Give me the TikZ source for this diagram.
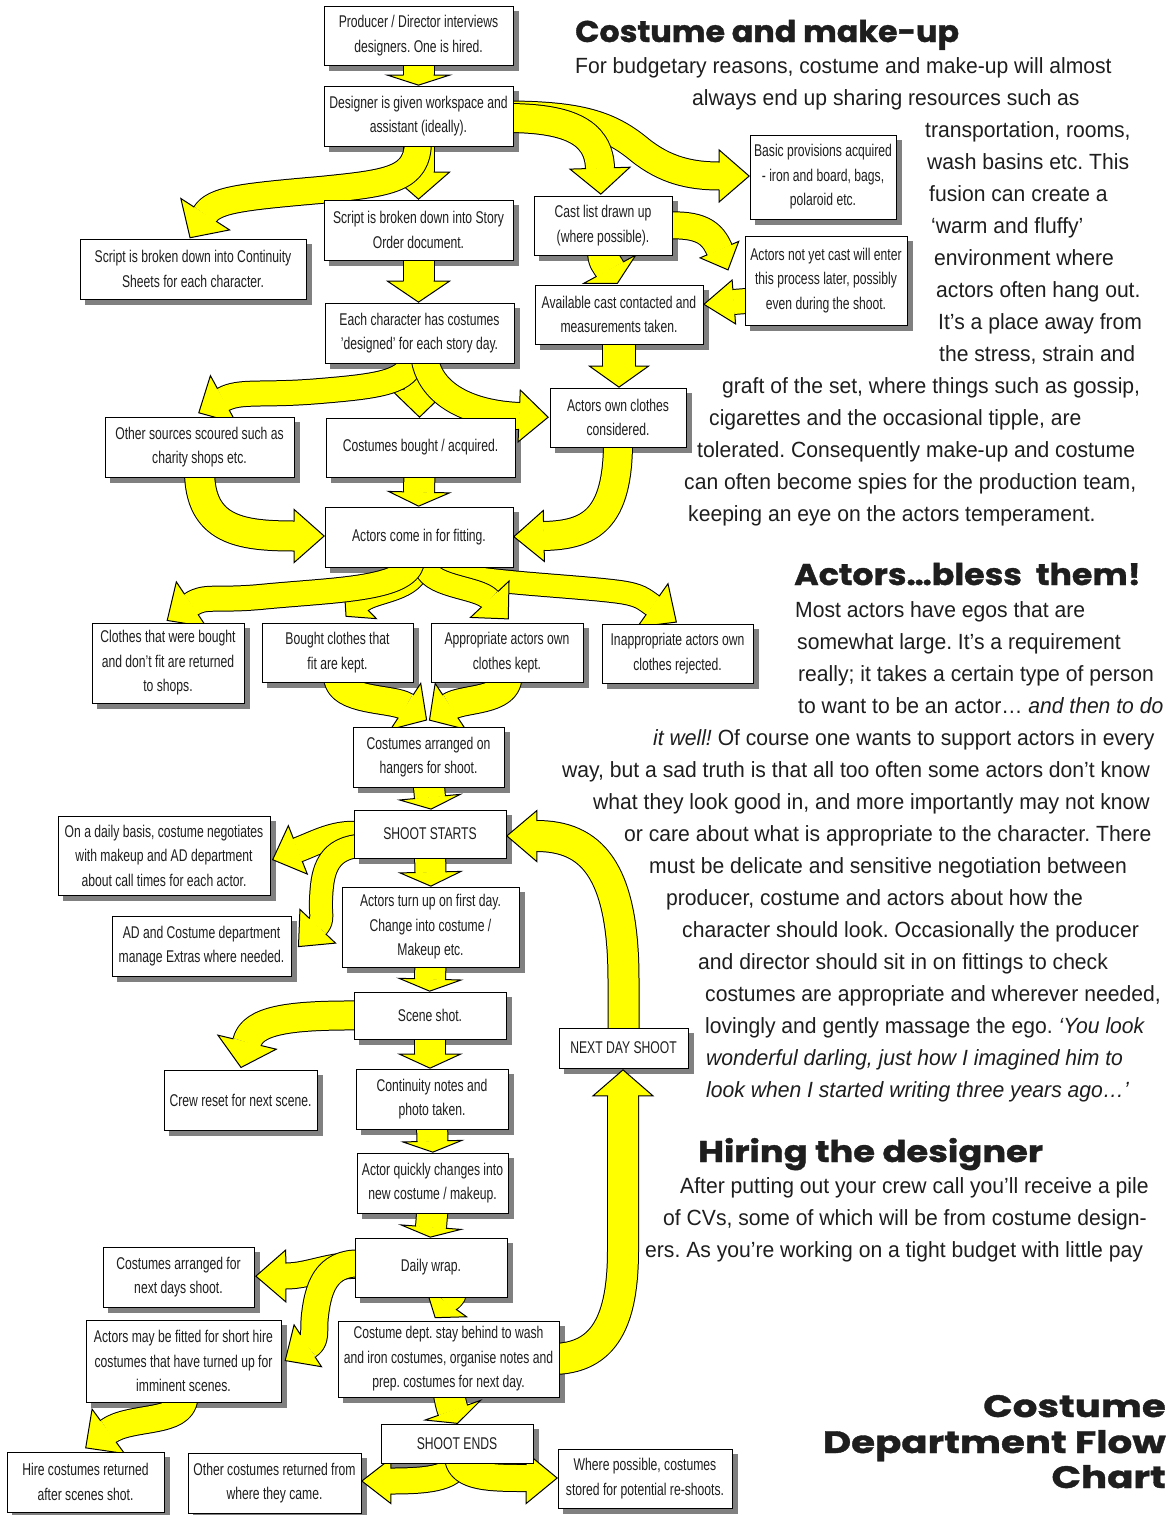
\documentclass[tikz,border=0pt]{standalone}
\usepackage{fontspec}
\usetikzlibrary{decorations.markings,calc}
\newfontfamily\boxfont{Liberation Sans}[FakeStretch=0.715]
\newfontfamily\bodyfont{Liberation Sans}[FakeStretch=0.96]
\newfontfamily\headfont{Poppins}[FakeStretch=1.11,FakeBold=1.2]
\newfontfamily\titlefont{Poppins}[FakeStretch=1.25,FakeBold=1.2]
\definecolor{ayellow}{RGB}{255,255,0}
\definecolor{shadowgray}{RGB}{128,128,128}
\definecolor{inkc}{RGB}{30,30,30}
\pgfdeclarelayer{bg}
\pgfdeclarelayer{shad}
\pgfdeclarelayer{arr}
\pgfsetlayers{bg,shad,arr,main}
\frenchspacing
\tikzset{
  box/.style={draw=black, line width=0.9pt, fill=white, align=center, inner sep=0pt, text=inkc,
    font=\boxfont\fontsize{17}{24.5}\selectfont\frenchspacing},
  body/.style={inner sep=0pt, anchor=base west, text=inkc, font=\bodyfont\fontsize{22}{26}\selectfont\frenchspacing},
  head/.style={inner sep=0pt, text=inkc, font=\headfont\bfseries\fontsize{30}{34}\selectfont},
  titletext/.style={inner sep=0pt, text=inkc, anchor=base east, font=\titlefont\bfseries\fontsize{31}{35}\selectfont},
  yarrow/.style n args={3}{draw=black, line width=1pt, double=ayellow, double distance=#1,
    line join=round,
    postaction={decorate, decoration={markings, mark=at position -0.4pt with {
      \filldraw[fill=ayellow, draw=black, line width=1pt, line join=miter]
        (0pt,{#1*0.5pt}) -- (0pt,{#2*0.5pt}) -- ({#3*1pt},0pt) -- (0pt,{-#2*0.5pt}) -- (0pt,{-#1*0.5pt});}}}},
}
\newcommand\bx[6]{\node[box,minimum width={#4-#2},minimum height={#5-#3}] (#1) at ({(#2+#4)/2},{(#3+#5)/2}) {#6};}
\newcommand\yarr[4]{\draw[yarrow={#1}{#2}{#3}] #4;}
\begin{document}
\begin{tikzpicture}[x=1pt,y=-1pt]
\begin{pgfonlayer}{bg}
\fill[white] (0,0) rectangle (1173,1515);
\end{pgfonlayer}
\useasboundingbox (0,0) rectangle (1173,1515);

% ---------------- boxes ----------------
\bx{B1}{324}{6}{513}{65}{Producer / Director interviews\\designers. One is hired.}
\bx{B2}{324}{86}{513}{146}{Designer is given workspace and\\assistant (ideally).}
\bx{B3}{80}{239}{306}{299}{Script is broken down into Continuity\\Sheets for each character.}
\bx{B4}{324}{200}{513}{260}{Script is broken down into Story\\Order document.}
\bx{B5}{534}{196}{672}{255}{Cast list drawn up\\(where possible).}
\bx{B6}{750}{135}{896}{219}{Basic provisions acquired\\- iron and board, bags,\\polaroid etc.}
\bx{B7}{745}{236}{907}{325}{Actors not yet cast will enter\\this process later, possibly\\even during the shoot.}
\bx{B8}{535}{285}{703}{344}{Available cast contacted and\\measurements taken.}
\bx{B9}{325}{303}{514}{363}{Each character has costumes\\’designed’ for each story day.}
\bx{B10}{550}{388}{686}{447}{Actors own clothes\\considered.}
\bx{B11}{105}{417}{294}{477}{Other sources scoured such as\\charity shops etc.}
\bx{B12}{326}{418}{515}{477}{Costumes bought / acquired.}
\bx{B13}{325}{507}{513}{567}{Actors come in for fitting.}
\bx{B14}{92}{623}{244}{703}{Clothes that were bought\\and don’t fit are returned\\to shops.}
\bx{B15}{262}{623}{413}{682}{Bought clothes that\\fit are kept.}
\bx{B16}{431}{623}{583}{682}{Appropriate actors own\\clothes kept.}
\bx{B17}{602}{624}{753}{683}{Inappropriate actors own\\clothes rejected.}
\bx{B18}{353}{727}{504}{787}{Costumes arranged on\\hangers for shoot.}
\bx{B19}{354}{810}{506}{858}{SHOOT STARTS}
\bx{B20}{58}{816}{270}{895}{On a daily basis, costume negotiates\\with makeup and AD department\\about call times for each actor.}
\bx{B21}{112}{916}{291}{976}{AD and Costume department\\manage Extras where needed.}
\bx{B22}{342}{887}{519}{967}{Actors turn up on first day.\\Change into costume /\\Makeup etc.}
\bx{B23}{354}{992}{506}{1039}{Scene shot.}
\bx{B24}{164}{1070}{317}{1130}{Crew reset for next scene.}
\bx{B25}{356}{1069}{508}{1129}{Continuity notes and\\photo taken.}
\bx{B26}{559}{1028}{688}{1068}{NEXT DAY SHOOT}
\bx{B27}{357}{1153}{508}{1213}{Actor quickly changes into\\new costume / makeup.}
\bx{B28}{355}{1238}{507}{1297}{Daily wrap.}
\bx{B29}{103}{1247}{254}{1307}{Costumes arranged for\\next days shoot.}
\bx{B30}{86}{1320}{281}{1402}{Actors may be fitted for short hire\\costumes that have turned up for\\imminent scenes.}
\bx{B31}{338}{1321}{559}{1397}{Costume dept. stay behind to wash\\and iron costumes, organise notes and\\prep. costumes for next day.}
\bx{B32}{381}{1424}{533}{1463}{SHOOT ENDS}
\bx{B33}{7}{1452}{164}{1512}{Hire costumes returned\\after scenes shot.}
\bx{B34}{188}{1453}{361}{1513}{Other costumes returned from\\where they came.}
\bx{B35}{558}{1449}{732}{1508}{Where possible, costumes\\stored for potential re-shoots.}

% ---------------- shadows ----------------
\begin{pgfonlayer}{shad}
\foreach \n in {B1,B2,B3,B4,B5,B6,B7,B8,B9,B10,B11,B12,B13,B14,B15,B16,B17,B18,B19,B20,B21,B22,B23,B24,B25,B26,B27,B28,B29,B30,B31,B32,B33,B34,B35}
  \fill[shadowgray] ($(\n.north west)+(5.5,5.5)$) rectangle ($(\n.south east)+(5.5,5.5)$);
\end{pgfonlayer}

% ---------------- arrows ----------------
\begin{pgfonlayer}{arr}
\yarr{30}{62}{10}{($(B1.south)+(0,-10)$) -- ($(B2.north)+(0,-10)$)}
\yarr{30}{62}{27}{($(B2.south)+(0,-6)$) -- ($(B4.north)+(0,-27)$)}
\yarr{26}{58}{28}{($(B2.south)+(-0.5,-6)$) .. controls (418,180) and (390,183) .. (320,190) .. controls (240,197) and (214,200) .. ($(B3.north)+(12,-24)$)}
\yarr{27}{52}{30}{($(B2.east)+(-8,-1)$) .. controls (580,115) and (610,125) .. (640,150) .. controls (665,170) and (690,176) .. ($(B6.west)+(-30,-1)$)}
\yarr{28}{60}{26}{($(B2.east)+(-8,2)$) .. controls (565,118) and (599,130) .. ($(B5.north)+(-3,-27)$)}
\yarr{30}{62}{21}{($(B4.south)+(0,-6)$) -- ($(B9.north)+(-1,-21)$)}
\yarr{26}{42}{22}{($(B5.east)+(-7,0)$) .. controls (700,224) and (712,232) .. ($(B7.west)+(-25,-30.5)$)}
\yarr{24}{44}{30}{($(B7.west)+(8,20)$) -- ($(B8.east)+(30,-12.5)$)}
\yarr{30}{59}{16}{($(B5.south)+(0,-6)$) .. controls (603,262) and (606,262) .. ($(B8.north)+(-9,-15)$)}
\yarr{32}{59}{21}{($(B8.south)+(0,-6)$) -- ($(B10.north)+(1,-21)$)}
\yarr{30}{58}{28}{($(B9.south)+(0,-6)$) -- ($(B12.north)+(-1,-28)$)}
\yarr{24}{54}{28}{($(B9.south)+(-7,-6)$) .. controls (410,382) and (380,386) .. (320,391) .. controls (262,396) and (240,390) .. ($(B11.north)+(23.5,-17)$)}
\yarr{26}{52}{29}{($(B9.south)+(5,-6)$) .. controls (430,395) and (470,414) .. ($(B10.west)+(-30,-1.5)$)}
\yarr{29}{53}{30}{($(B11.south)+(0,-6)$) .. controls (200,530) and (240,536) .. ($(B13.west)+(-30,-1)$)}
\yarr{30}{61}{14}{($(B12.south)+(-1,-6)$) -- ($(B13.north)+(0,-14)$)}
\yarr{28}{51}{30}{($(B10.south)+(0,-6)$) .. controls (618,520) and (590,535) .. ($(B13.east)+(30,-1)$)}
\yarr{22}{46}{20}{($(B13.south)+(0,-5)$) .. controls (418,592) and (372,590) .. ($(B15.north)+(22.5,-20)$)}
\yarr{22}{53}{29}{($(B13.south)+(6,-5)$) .. controls (440,582) and (560,584) .. (620,592) .. controls (640,595) and (643,598.5) .. ($(B17.north)+(-24.5,-18)$)}
\yarr{22}{53}{27}{($(B13.south)+(5,-5)$) .. controls (426,588) and (478,586) .. ($(B16.north)+(-17,-23)$)}
\yarr{24}{54}{29}{($(B13.south)+(-7,-5)$) .. controls (405,590) and (330,590) .. (260,597) .. controls (215,601) and (205,595) .. ($(B14.north)+(23,-18)$)}
\yarr{27}{55}{25}{($(B15.south)+(0,-6)$) .. controls (338,702) and (394,698) .. ($(B18.north)+(-22.5,-20)$)}
\yarr{27}{55}{25}{($(B16.south)+(1,-6)$) .. controls (508,702) and (462,698) .. ($(B18.north)+(21.5,-20)$)}
\yarr{30}{61}{12}{($(B18.south)+(0,-6)$) -- ($(B19.north)+(0,-12)$)}
\yarr{24}{52}{27}{($(B19.west)+(6,0)$) .. controls (335,832) and (318,842) .. ($(B20.east)+(27,-5.5)$)}
\yarr{22}{49}{28}{($(B19.west)+(4,12)$) .. controls (325,850) and (322,875) .. (321,900) .. controls (320,912) and (324,920) .. ($(B21.north east)+(26,11)$)}
\yarr{30}{61}{14}{($(B19.south)+(0,-6)$) -- ($(B22.north)+(0,-14)$)}
\yarr{30}{62}{12}{($(B22.south)+(0,-6)$) -- ($(B23.north)+(0,-12)$)}
\yarr{28}{60}{26}{($(B23.west)+(6,0)$) .. controls (290,1015) and (252,1020) .. ($(B24.north)+(6.5,-27)$)}
\yarr{30}{61}{14}{($(B23.south)+(0,-6)$) -- ($(B25.north)+(-2,-14)$)}
\yarr{30}{59}{11}{($(B25.south)+(0,-6)$) -- ($(B27.north)+(0,-11)$)}
\yarr{30}{60}{10}{($(B27.south)+(0,-6)$) -- ($(B28.north)+(0,-10)$)}
\yarr{25}{52}{30}{($(B28.west)+(6,-2)$) .. controls (330,1264) and (310,1276) .. ($(B29.east)+(31,-1)$)}
\yarr{26}{50}{27}{($(B28.west)+(6,-4)$) .. controls (325,1262) and (318,1290) .. (315,1315) .. controls (313,1332) and (317,1340) .. ($(B30.east)+(26,-15)$)}
\yarr{24}{50}{19}{($(B28.south)+(23,-6)$) .. controls (454,1298) and (449,1298) .. ($(B31.north)+(-2.5,-18)$)}
\yarr{30}{60}{26}{($(B31.east)+(-8,0)$) .. controls (605,1359) and (623,1320) .. (623,1250) -- ($(B26.south)+(-0.5,27)$)}
\yarr{30}{51}{30}{($(B26.north)+(0,8)$) -- (623.5,980) .. controls (623.5,868) and (590,836) .. ($(B19.east)+(30,2)$)}
\yarr{30}{59}{14}{($(B31.south)+(0,-6)$) .. controls (450,1400) and (451,1405) .. ($(B32.north)+(-4,-13)$)}
\yarr{26}{55}{28}{($(B30.south)+(1,-6)$) .. controls (184,1425) and (130,1415) .. ($(B33.north)+(22.5,-20)$)}
\yarr{25}{45}{29}{($(B32.south)+(1,-6)$) .. controls (458,1478) and (430,1481) .. ($(B34.east)+(29,-2)$)}
\yarr{26}{51}{31}{($(B32.south)+(1,-6)$) .. controls (460,1478) and (492,1478) .. ($(B35.west)+(-31,-0.5)$)}
\end{pgfonlayer}

% ---------------- headings ----------------
\node[head, anchor=base west] (H1) at (575,42) {\scalebox{0.955}[1]{Costume and make-up}};
\node[head, anchor=base west] (H2) at (794,585) {Actors…bless\ \ them!};
\node[head, anchor=base west] (H3) at (698,1162) {\scalebox{1.06}[1]{Hiring the designer}};
\node[titletext] (T1) at (1166,1417) {Costume};
\node[titletext] (T2) at (1166,1453) {Department Flow};
\node[titletext] (T3) at (1166,1488) {Chart};

% ---------------- body text ----------------
\node[body] (t1) at (575,73) {For budgetary reasons, costume and make-up will almost};
\node[body] (t2) at (692,105) {always end up sharing resources such as};
\node[body] (t3) at (925,137) {transportation, rooms,};
\node[body] (t4) at (927,169) {wash basins etc. This};
\node[body] (t5) at (929,201) {fusion can create a};
\node[body] (t6) at (931,233) {‘warm and fluffy’};
\node[body] (t7) at (934,265) {environment where};
\node[body] (t8) at (936,297) {actors often hang out.};
\node[body] (t9) at (938,329) {It’s a place away from};
\node[body] (t10) at (939,361) {the stress, strain and};
\node[body] (t11) at (722,393) {graft of the set, where things such as gossip,};
\node[body] (t12) at (709,425) {cigarettes and the occasional tipple, are};
\node[body] (t13) at (697,457) {tolerated. Consequently make-up and costume};
\node[body] (t14) at (684,489) {can often become spies for the production team,};
\node[body] (t15) at (688,521) {keeping an eye on the actors temperament.};

\node[body] (a1) at (795,617) {Most actors have egos that are};
\node[body] (a2) at (797,649) {somewhat large. It’s a requirement};
\node[body] (a3) at (798,681) {really; it takes a certain type of person};
\node[body] (a4) at (798,713) {to want to be an actor… \textit{and then to do}};
\node[body] (a5) at (653,745) {\textit{it well!} Of course one wants to support actors in every};
\node[body] (a6) at (562,777) {way, but a sad truth is that all too often some actors don’t know};
\node[body] (a7) at (593,809) {what they look good in, and more importantly may not know};
\node[body] (a8) at (624,841) {or care about what is appropriate to the character. There};
\node[body] (a9) at (649,873) {must be delicate and sensitive negotiation between};
\node[body] (a10) at (666,905) {producer, costume and actors about how the};
\node[body] (a11) at (682,937) {character should look. Occasionally the producer};
\node[body] (a12) at (698,969) {and director should sit in on fittings to check};
\node[body] (a13) at (705,1001) {costumes are appropriate and wherever needed,};
\node[body] (a14) at (705,1033) {lovingly and gently massage the ego. \textit{‘You look}};
\node[body] (a15) at (706,1065) {\textit{wonderful darling, just how I imagined him to}};
\node[body] (a16) at (706,1097) {\textit{look when I started writing three years ago…’}};

\node[body] (h1) at (680,1193) {After putting out your crew call you’ll receive a pile};
\node[body] (h2) at (663,1225) {of CVs, some of which will be from costume design-};
\node[body] (h3) at (645,1257) {ers. As you’re working on a tight budget with little pay};
\end{tikzpicture}
\end{document}
